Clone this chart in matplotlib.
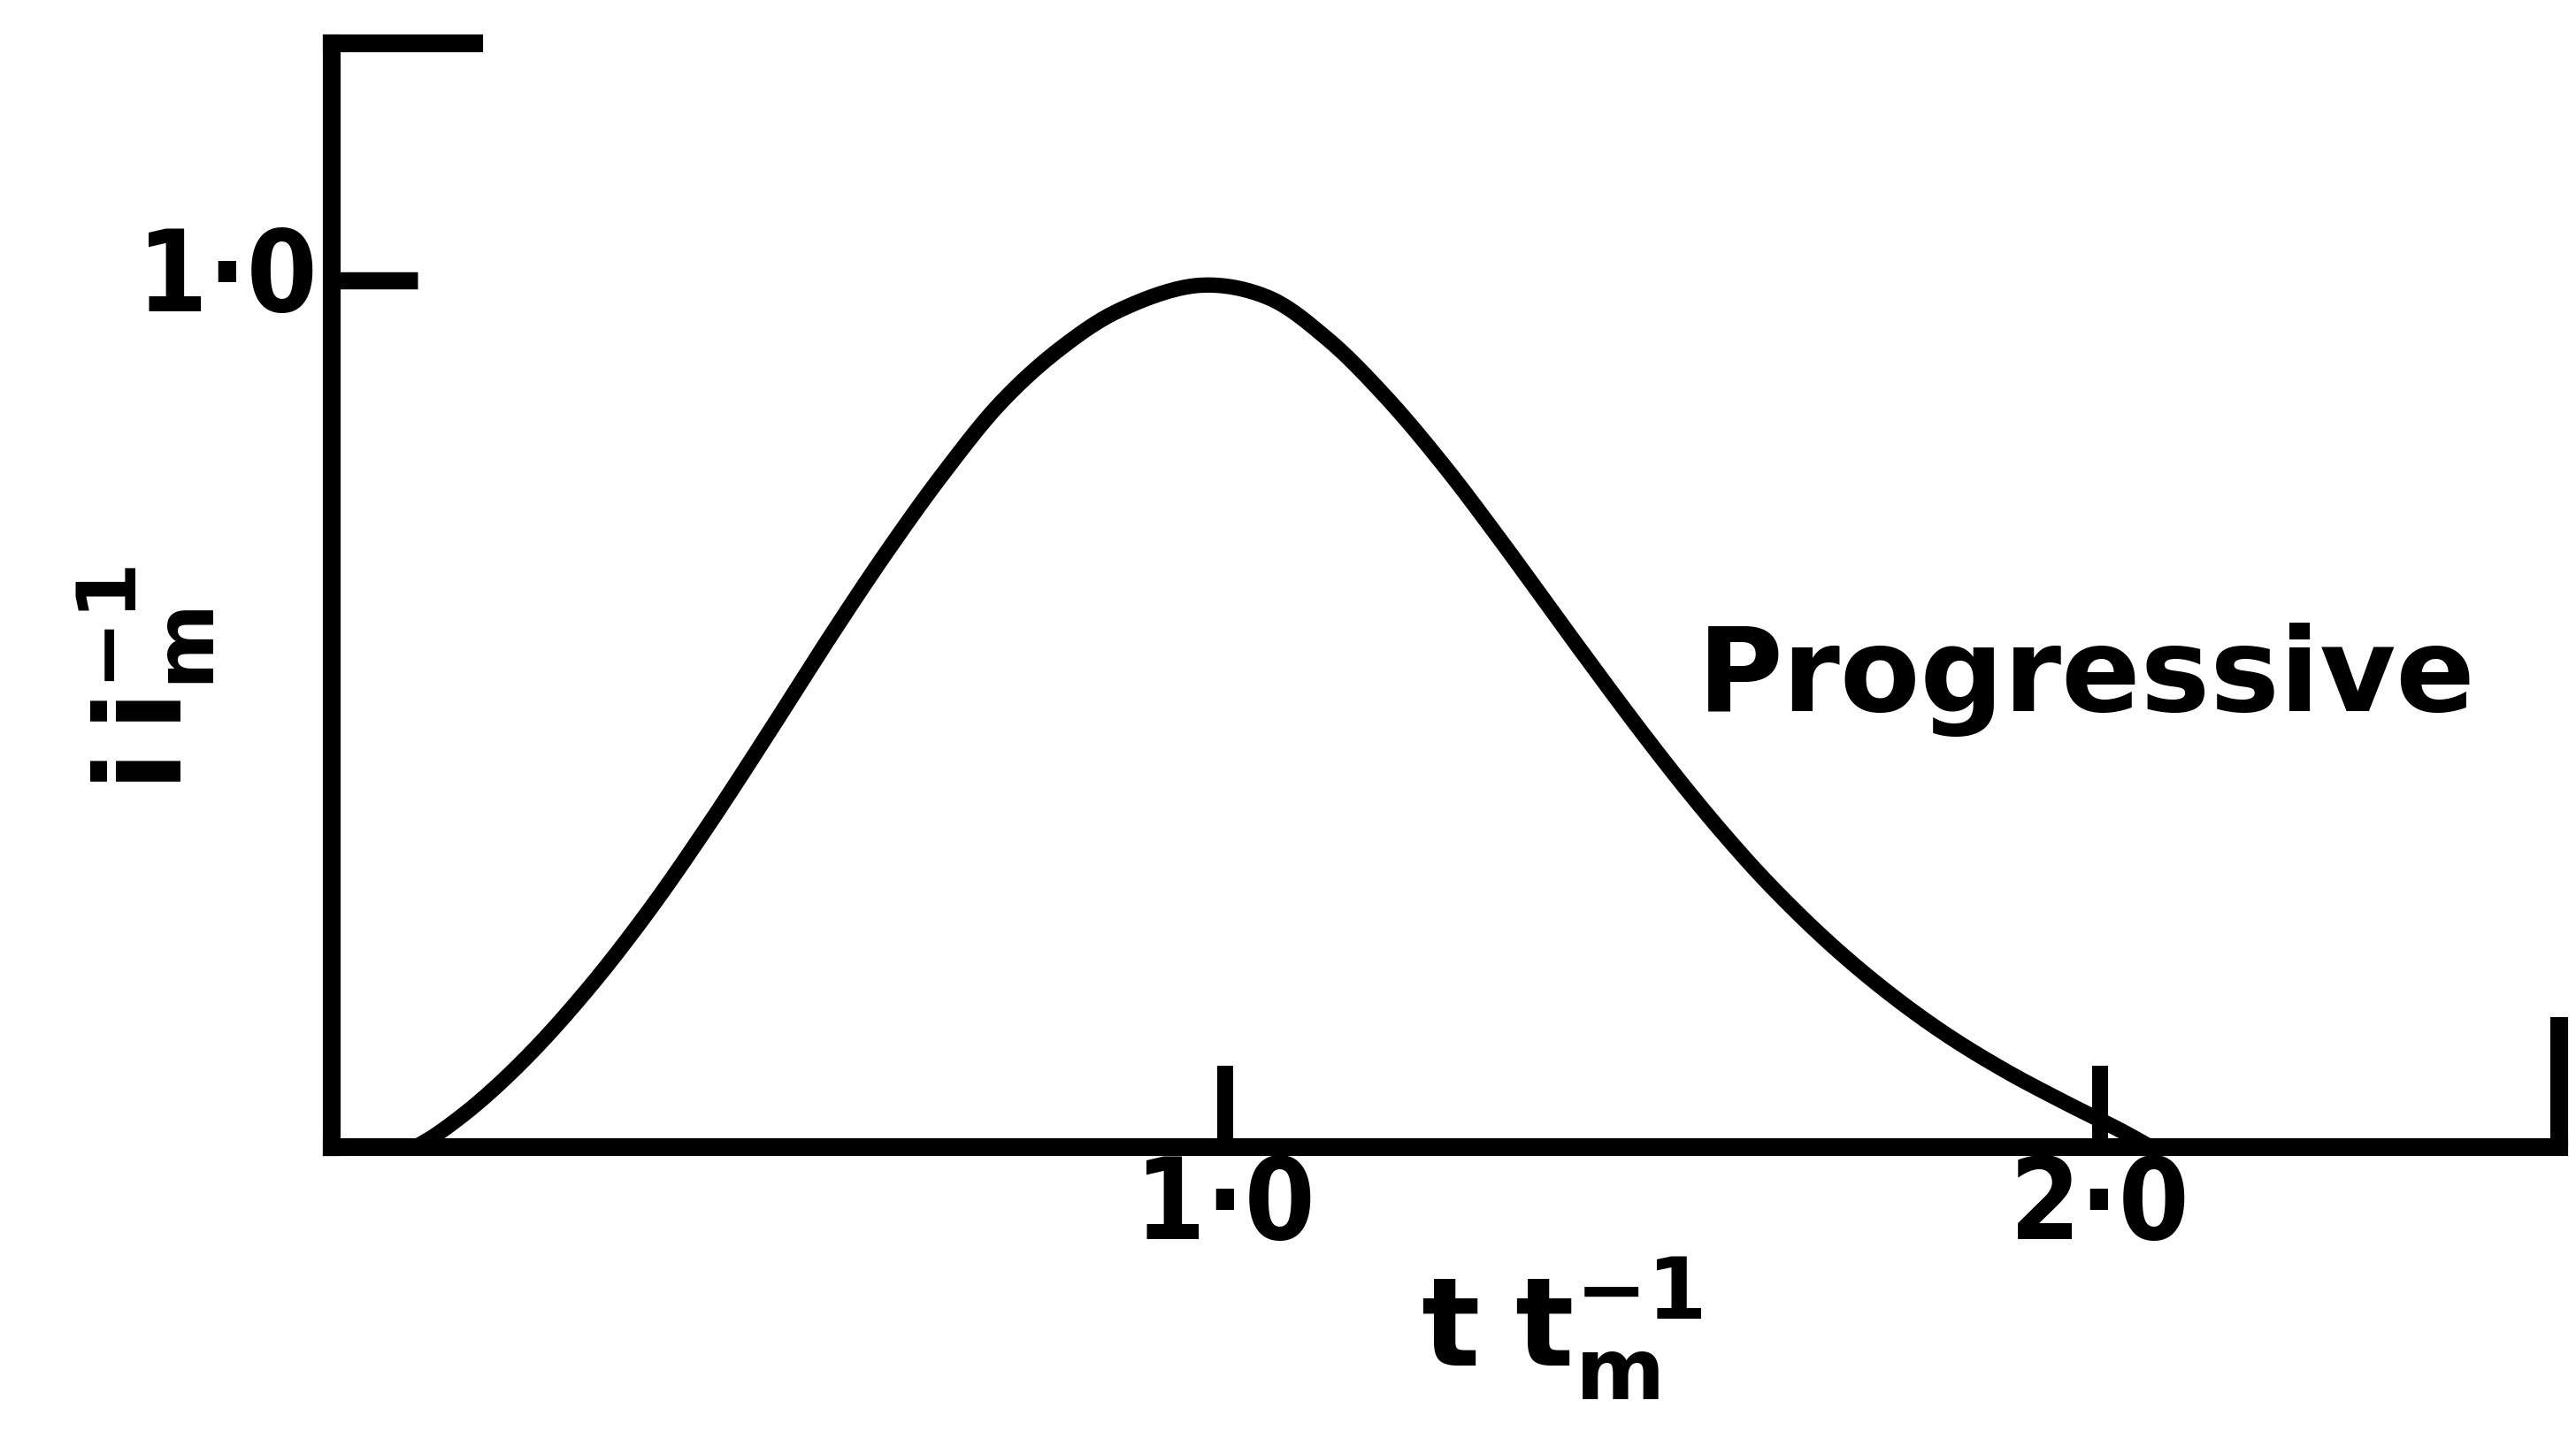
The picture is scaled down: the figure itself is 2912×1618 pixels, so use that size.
import matplotlib
matplotlib.use("Agg")
import numpy as np
import matplotlib.pyplot as plt

# normalised current i/i_m against normalised time t/t_m
t_norm = [0.075, 0.098, 0.146, 0.206, 0.274, 0.341, 0.408, 0.476, 0.543,
          0.611, 0.678, 0.745, 0.813, 0.881, 0.972, 1.049, 1.116, 1.184,
          1.251, 1.312, 1.403, 1.470, 1.524, 1.571, 1.622, 1.690, 1.757,
          1.824, 1.892, 1.959, 2.026, 2.058]
i_norm = [0.000, 0.014, 0.051, 0.108, 0.185, 0.272, 0.369, 0.474, 0.580,
          0.683, 0.777, 0.860, 0.922, 0.966, 0.994, 0.980, 0.933, 0.865,
          0.785, 0.704, 0.578, 0.487, 0.417, 0.360, 0.303, 0.236, 0.179,
          0.130, 0.088, 0.052, 0.018, 0.000]

x_ticks = [1.0, 2.0]
x_ticklabels = ["1·0", "2·0"]
y_ticks = [1.0]
y_ticklabels = ["1·0"]
curve_label = "Progressive"


def centripetal_spline(xs, ys, steps=20, alpha=0.5):
    # smooth pen-like stroke through the points (centripetal Catmull-Rom)
    p = np.column_stack([xs, ys]).astype(float)
    p = np.vstack([2 * p[0] - p[1], p, 2 * p[-1] - p[-2]])
    out = []
    for k in range(1, len(p) - 2):
        p0, p1, p2, p3 = p[k - 1], p[k], p[k + 1], p[k + 2]
        t0 = 0.0
        t1 = t0 + np.linalg.norm(p1 - p0) ** alpha
        t2 = t1 + np.linalg.norm(p2 - p1) ** alpha
        t3 = t2 + np.linalg.norm(p3 - p2) ** alpha
        t = np.linspace(t1, t2, steps, endpoint=False)[:, None]
        a1 = (t1 - t) / (t1 - t0) * p0 + (t - t0) / (t1 - t0) * p1
        a2 = (t2 - t) / (t2 - t1) * p1 + (t - t1) / (t2 - t1) * p2
        a3 = (t3 - t) / (t3 - t2) * p2 + (t - t2) / (t3 - t2) * p3
        b1 = (t2 - t) / (t2 - t0) * a1 + (t - t0) / (t2 - t0) * a2
        b2 = (t3 - t) / (t3 - t1) * a2 + (t - t1) / (t3 - t1) * a3
        out.append((t2 - t) / (t2 - t1) * b1 + (t - t1) / (t2 - t1) * b2)
    out.append(p[-2][None, :])
    out = np.vstack(out)
    return out[:, 0], out[:, 1]


W, H = 2912, 1618
plt.rcParams["font.family"] = ["DejaVu Sans"]
plt.rcParams["font.weight"] = "bold"
plt.rcParams["mathtext.fontset"] = "custom"
plt.rcParams["mathtext.rm"] = "DejaVu Sans:bold"
plt.rcParams["mathtext.it"] = "DejaVu Sans:bold"

fig = plt.figure(figsize=(W / 100, H / 100), dpi=100)
ax = fig.add_axes([375 / W, 321 / H, 2518 / W, 1248 / H])
xmin, xmax = -0.021, 2.525
ymin, ymax = 0.0, 1.273
ax.set_xlim(xmin, xmax)
ax.set_ylim(ymin, ymax)

axis_lw = 14.5
for side in ("top", "right"):
    ax.spines[side].set_visible(False)
for side in ("left", "bottom"):
    ax.spines[side].set_linewidth(axis_lw)
    ax.spines[side].set_capstyle("projecting")

# short stubs closing the frame at top-left and bottom-right
ax.plot([xmin, 0.142], [ymax, ymax], color="black", lw=axis_lw,
        solid_capstyle="projecting", clip_on=False)
ax.plot([xmax, xmax], [ymin, 0.150], color="black", lw=axis_lw,
        solid_capstyle="butt", clip_on=False)

sx, sy = centripetal_spline(t_norm, i_norm)
ax.plot(sx, sy, color="black", lw=12.5, solid_capstyle="round",
        solid_joinstyle="round", clip_on=False)

ax.set_xticks(x_ticks)
ax.set_xticklabels(x_ticklabels, fontstretch="condensed")
ax.set_yticks(y_ticks)
ax.set_yticklabels(y_ticklabels, fontstretch="condensed")
ax.tick_params(axis="x", direction="in", length=66, width=13, pad=4,
               labelsize=92, top=False)
ax.tick_params(axis="y", direction="in", length=70, width=14, pad=12,
               labelsize=92, right=False)
for lab in ax.get_yticklabels():
    lab.set_va("center")

ax.text(1.54, 0.503, curve_label, fontsize=95, fontweight="bold",
        ha="left", va="baseline")

ax.set_xlabel(r"$\mathrm{t\;t_{m}^{-1}}$", fontsize=100)
ax.xaxis.set_label_coords((1765 - 375) / 2518, (1297 - 1418) / 1248)
ax.set_ylabel(r"$\mathrm{i\,i_{m}^{-1}}$", fontsize=96)
ax.yaxis.set_label_coords((245 - 375) / 2518, (1297 - 768) / 1248)

fig.savefig("out.png", dpi=100, facecolor="white")
